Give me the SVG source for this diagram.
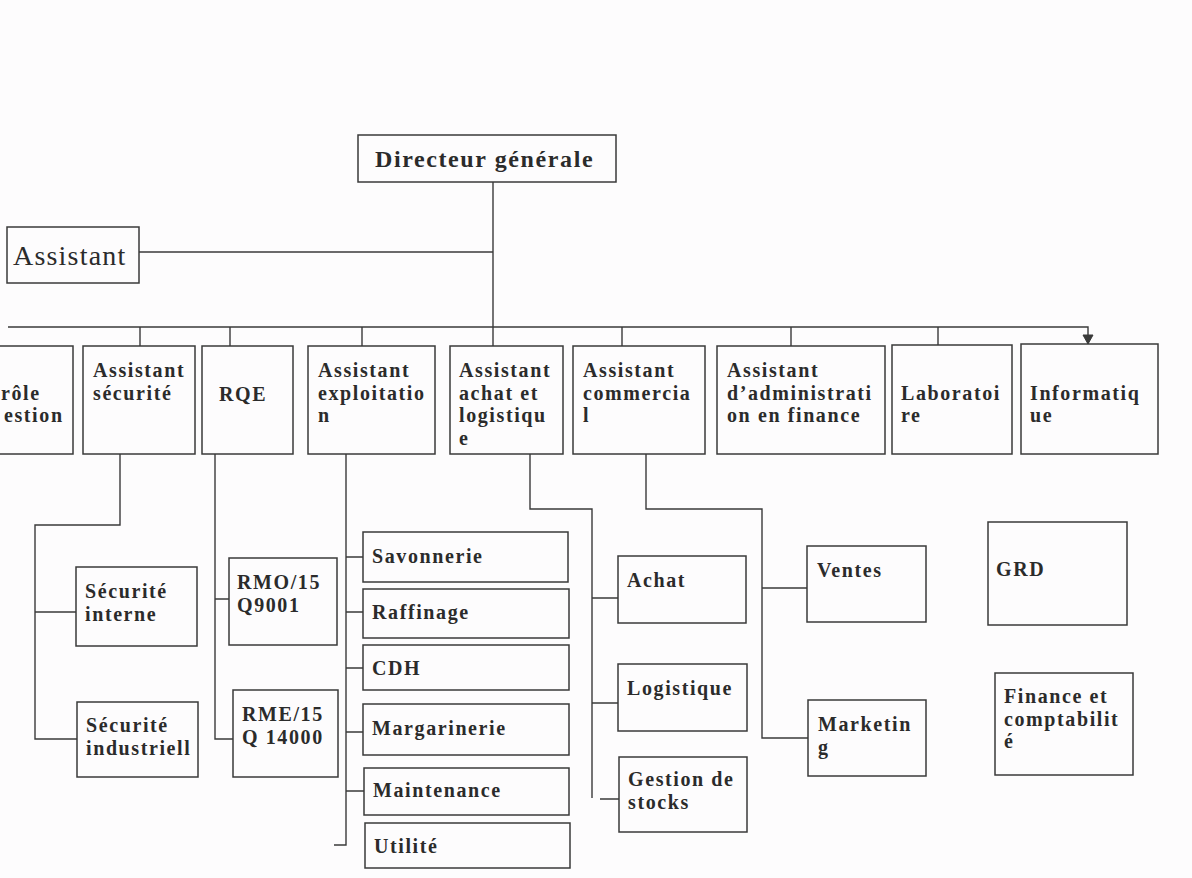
<svg xmlns="http://www.w3.org/2000/svg" width="1192" height="878" viewBox="0 0 1192 878">
<style>
.bg{fill:#fdfcfd}
.box{fill:none;stroke:#3a3a3a;stroke-width:1.5}
.c{fill:none;stroke:#3a3a3a;stroke-width:1.4}
.t{font-family:"Liberation Serif","Times New Roman",serif;font-weight:bold;font-size:20px;letter-spacing:1.6px;fill:#2b2b2b}
.dg{font-size:24px;letter-spacing:1.6px}
.as{font-weight:normal;font-size:28px;letter-spacing:1.2px}
</style>
<defs>
<marker id="arr" markerWidth="12" markerHeight="12" refX="10" refY="6" orient="auto" markerUnits="userSpaceOnUse">
<path d="M1,1 L10,6 L1,11 Z" fill="#3a3a3a" stroke="#3a3a3a" stroke-width="1"/>
</marker>
</defs>
<rect class="bg" x="0" y="0" width="1192" height="878"/>

<g id="connectors">
<path class="c" d="M493,182 V327"/>
<path class="c" d="M139,252 H493"/>
<path class="c" d="M8,327 H1088 V344" marker-end="url(#arr)"/>
<path class="c" d="M140,327 V346 M230,327 V346 M362,327 V346 M493,327 V346 M622,327 V346 M791,327 V346 M938,327 V345"/>
<path class="c" d="M120,454 V525 H35 V739 H77 M35,612 H76"/>
<path class="c" d="M215,454 V739 H233 M215,599 H229"/>
<path class="c" d="M346,454 V845 H334 M346,557 H363 M346,612 H363 M346,668 H363 M346,732 H363 M346,791 H364"/>
<path class="c" d="M530,454 V509 H592 V798 M592,598 H618 M592,703 H618 M600,799 H619"/>
<path class="c" d="M646,454 V509 H762 V738 H808 M762,588 H807"/>
</g>

<g id="directeur">
<rect class="box" x="358" y="135" width="258" height="47"/>
<text class="t dg" x="375" y="167">Directeur générale</text>
</g>
<g id="assistant">
<rect class="box" x="7" y="227" width="132" height="56"/>
<text class="t as" x="13" y="265">Assistant</text>
</g>

<g id="controle">
<rect class="box" x="-5" y="346" width="78" height="108"/>
<text class="t" x="1" y="399.5">rôle</text>
<text class="t" x="4" y="422">estion</text>
</g>
<g id="assistant-securite">
<rect class="box" x="83" y="346" width="112" height="108"/>
<text class="t" x="93" y="377">Assistant</text>
<text class="t" x="93" y="399.5">sécurité</text>
</g>
<g id="rqe">
<rect class="box" x="202" y="346" width="91" height="108"/>
<text class="t" x="219" y="401">RQE</text>
</g>
<g id="assistant-exploitation">
<rect class="box" x="308" y="346" width="127" height="108"/>
<text class="t" x="318" y="377">Assistant</text>
<text class="t" x="318" y="399.5">exploitatio</text>
<text class="t" x="318" y="422">n</text>
</g>
<g id="assistant-achat">
<rect class="box" x="450" y="346" width="113" height="108"/>
<text class="t" x="459" y="377">Assistant</text>
<text class="t" x="459" y="399.5">achat et</text>
<text class="t" x="459" y="422">logistiqu</text>
<text class="t" x="459" y="444.5">e</text>
</g>
<g id="assistant-commercial">
<rect class="box" x="573" y="346" width="132" height="108"/>
<text class="t" x="583" y="377">Assistant</text>
<text class="t" x="583" y="399.5">commercia</text>
<text class="t" x="583" y="422">l</text>
</g>
<g id="assistant-admin">
<rect class="box" x="717" y="346" width="168" height="108"/>
<text class="t" x="727" y="377">Assistant</text>
<text class="t" x="727" y="399.5">d’administrati</text>
<text class="t" x="727" y="422">on en finance</text>
</g>
<g id="laboratoire">
<rect class="box" x="892" y="345" width="120" height="109"/>
<text class="t" x="901" y="399.5">Laboratoi</text>
<text class="t" x="901" y="422">re</text>
</g>
<g id="informatique">
<rect class="box" x="1021" y="344" width="137" height="110"/>
<text class="t" x="1030" y="399.5">Informatiq</text>
<text class="t" x="1030" y="422">ue</text>
</g>

<g id="securite-interne">
<rect class="box" x="76" y="567" width="121" height="79"/>
<text class="t" x="85" y="598">Sécurité</text>
<text class="t" x="85" y="620.5">interne</text>
</g>
<g id="securite-industrielle">
<rect class="box" x="77" y="702" width="121" height="75"/>
<text class="t" x="86" y="732">Sécurité</text>
<text class="t" x="86" y="754.5">industriell</text>
</g>
<g id="rmo">
<rect class="box" x="229" y="558" width="108" height="87"/>
<text class="t" x="237" y="589">RMO/15</text>
<text class="t" x="237" y="611.5">Q9001</text>
</g>
<g id="rme">
<rect class="box" x="233" y="690" width="105" height="87"/>
<text class="t" x="242" y="721">RME/15</text>
<text class="t" x="242" y="743.5">Q 14000</text>
</g>

<g id="savonnerie">
<rect class="box" x="363" y="532" width="205" height="50"/>
<text class="t" x="372" y="563">Savonnerie</text>
</g>
<g id="raffinage">
<rect class="box" x="363" y="589" width="206" height="49"/>
<text class="t" x="372" y="619">Raffinage</text>
</g>
<g id="cdh">
<rect class="box" x="363" y="645" width="206" height="45"/>
<text class="t" x="372" y="675">CDH</text>
</g>
<g id="margarinerie">
<rect class="box" x="363" y="704" width="206" height="51"/>
<text class="t" x="372" y="735">Margarinerie</text>
</g>
<g id="maintenance">
<rect class="box" x="364" y="768" width="205" height="47"/>
<text class="t" x="373" y="797">Maintenance</text>
</g>
<g id="utilite">
<rect class="box" x="365" y="823" width="205" height="45"/>
<text class="t" x="374" y="853">Utilité</text>
</g>

<g id="achat">
<rect class="box" x="618" y="556" width="128" height="67"/>
<text class="t" x="627" y="587">Achat</text>
</g>
<g id="logistique">
<rect class="box" x="618" y="664" width="129" height="67"/>
<text class="t" x="627" y="695">Logistique</text>
</g>
<g id="gestion-stocks">
<rect class="box" x="619" y="757" width="128" height="75"/>
<text class="t" x="628" y="786">Gestion de</text>
<text class="t" x="628" y="808.5">stocks</text>
</g>

<g id="ventes">
<rect class="box" x="807" y="546" width="119" height="76"/>
<text class="t" x="817" y="577">Ventes</text>
</g>
<g id="marketing">
<rect class="box" x="808" y="700" width="118" height="76"/>
<text class="t" x="818" y="731">Marketin</text>
<text class="t" x="818" y="753.5">g</text>
</g>
<g id="grd">
<rect class="box" x="988" y="522" width="139" height="103"/>
<text class="t" x="996" y="576">GRD</text>
</g>
<g id="finance">
<rect class="box" x="995" y="673" width="138" height="102"/>
<text class="t" x="1004" y="703">Finance et</text>
<text class="t" x="1004" y="725.5">comptabilit</text>
<text class="t" x="1004" y="748">é</text>
</g>
</svg>
